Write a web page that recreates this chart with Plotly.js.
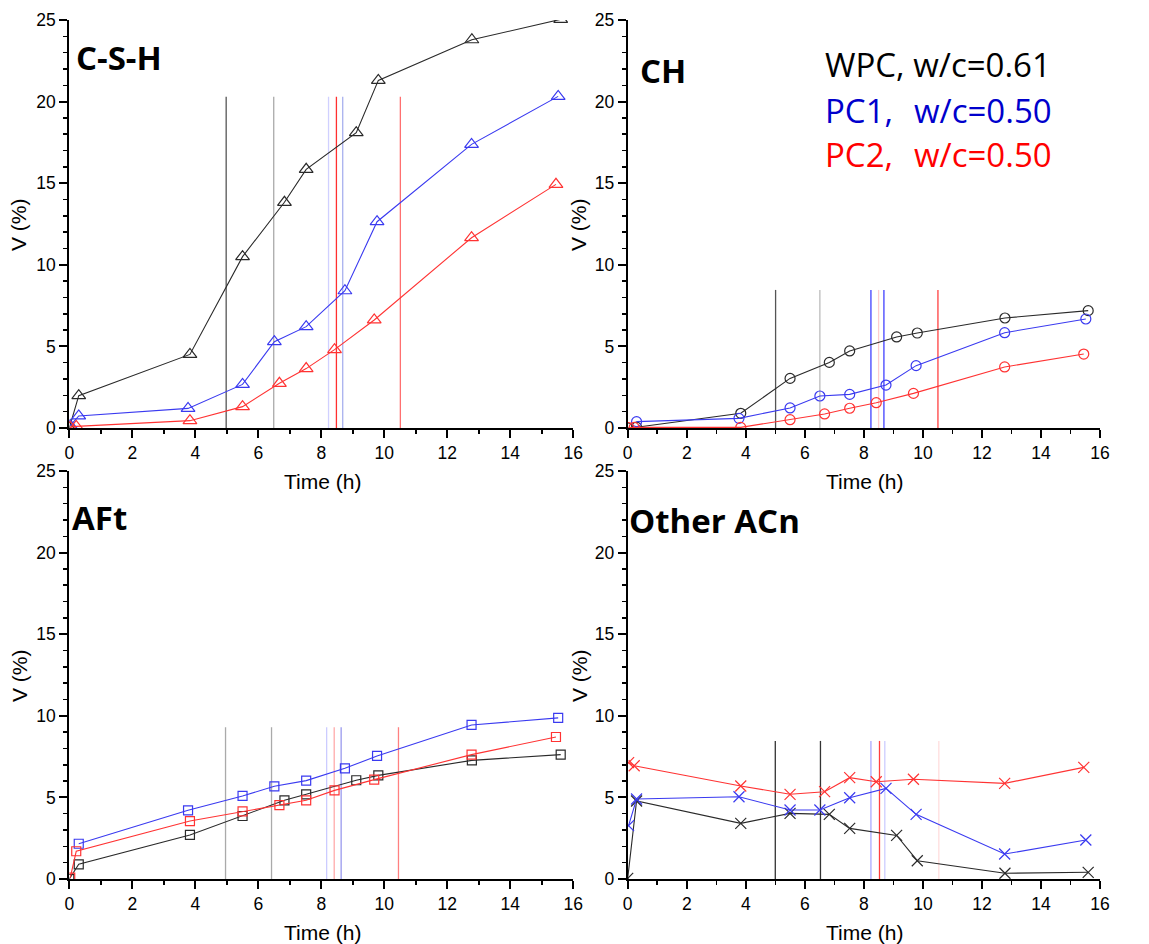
<!DOCTYPE html>
<html>
<head>
<meta charset="utf-8">
<script src="https://cdn.plot.ly/plotly-3.0.1.min.js"></script>
<style>html,body{margin:0;padding:0;background:#fff}#chart{width:1149px;height:944px}</style>
</head>
<body>
<div id="chart"></div>
<script>
// ---------------- DATA ----------------
const panelNames = ["C-S-H", "CH", "AFt", "Other ACn"];
const seriesNames = ["WPC, w/c=0.61", "PC1, w/c=0.50", "PC2, w/c=0.50"];

// sampling times (h)
const timeWPC = [0, 0.30, 3.83, 5.50, 6.83, 7.52, 9.11, 9.81, 12.78, 15.60];
const timePC1 = [0.03, 0.30, 3.77, 5.50, 6.51, 7.52, 8.75, 9.77, 12.77, 15.52];
const timePC2 = [0.03, 0.22, 3.83, 5.50, 6.67, 7.52, 8.42, 9.68, 12.77, 15.45];

// C-S-H volume (%)
const cshWPC = [0, 1.98, 4.51, 10.50, 13.83, 15.85, 18.10, 21.30, 23.79, 25.04];
const cshPC1 = [0.15, 0.74, 1.20, 2.67, 5.29, 6.21, 8.41, 12.64, 17.38, 20.32];
const cshPC2 = [0.05, 0.10, 0.45, 1.31, 2.74, 3.64, 4.80, 6.62, 11.66, 14.93];

// CH volume (%)
const chWPC = [0, 0.05, 0.90, 3.04, 4.02, 4.72, 5.58, 5.82, 6.74, 7.19];
const chPC1 = [null, 0.39, 0.59, 1.23, 1.96, 2.06, 2.63, 3.82, 5.84, 6.68];
const chPC2 = [0.03, 0.04, 0.04, 0.51, 0.86, 1.21, 1.55, 2.12, 3.74, 4.53];

// AFt volume (%)
const aftWPC = [0, 0.90, 2.70, 3.86, 4.82, 5.19, 6.05, 6.35, 7.27, 7.62];
const aftPC1 = [null, 2.16, 4.21, 5.09, 5.68, 6.03, 6.78, 7.54, 9.44, 9.87];
const aftPC2 = [0.08, 1.70, 3.55, 4.14, 4.53, 4.82, 5.43, 6.09, 7.62, 8.70];

// Other ACn volume (%)
const othWPC = [0.04, 4.78, 3.41, 4.02, 3.96, 3.10, 2.67, 1.12, 0.35, 0.41];
const othPC1 = [3.27, 4.90, 5.04, 4.23, 4.23, 4.98, 5.55, 3.96, 1.53, 2.39];
const othPC2 = [7.13, 6.94, 5.70, 5.19, 5.35, 6.21, 5.96, 6.11, 5.86, 6.84];

// vertical marker lines: times (h) and top value (%)
const markCSH = [4.98, 6.49, 8.23, 8.48, 8.68, 10.51];
const markCH  = [5.01, 6.51, 8.24, 8.50, 8.68, 10.51];
const markAFt = [4.96, 6.42, 8.17, 8.41, 8.63, 10.45];
const markOth = [5.00, 6.53, 8.24, 8.53, 8.71, 10.54];
const markTop = [20.3, 8.46, 9.3, 8.46];

// ---------------- STYLE ----------------
const W = 1149, H = 944;
const colSeries = ["#2a2a2a", "#3a3af0", "#ff3333"];
const markSymbols = ["triangle-up-open", "circle-open", "square-open", "x-thin-open"];
const markSizes = [12, 10, 9, 11];
const markColors = [
  ["#555555", "#aaaaaa", "#d0d0ff", "#ff3030", "#a8b0ee", "#ff7070"],
  ["#555555", "#bbbbbb", "#4040ff", "#ffcccc", "#4040ff", "#ff4040"],
  ["#aaaaaa", "#aaaaaa", "#ccccff", "#ffaaaa", "#9999ee", "#ff8080"],
  ["#333333", "#333333", "#aaaaff", "#ff4040", "#ccccff", "#ffdddd"]
];
const tickFont = {family: "Liberation Sans, Arial, sans-serif", size: 17.5, color: "#000"};

const panelData = [
  [cshWPC, cshPC1, cshPC2],
  [chWPC, chPC1, chPC2],
  [aftWPC, aftPC1, aftPC2],
  [othWPC, othPC1, othPC2]
];
const panelMarks = [markCSH, markCH, markAFt, markOth];
const times = [timeWPC, timePC1, timePC2];

const traces = [];
for (let p = 0; p < 4; p++) {
  const xa = p === 0 ? "x" : "x" + (p + 1);
  const ya = p === 0 ? "y" : "y" + (p + 1);
  panelMarks[p].forEach((t, i) => {
    traces.push({x: [t, t], y: [0, markTop[p]], xaxis: xa, yaxis: ya, mode: "lines",
      line: {color: markColors[p][i], width: 1.3}, hoverinfo: "skip", showlegend: false});
  });
  for (let s = 0; s < 3; s++) {
    traces.push({x: times[s], y: panelData[p][s], xaxis: xa, yaxis: ya, mode: "lines+markers",
      name: seriesNames[s], showlegend: false, connectgaps: false,
      line: {color: colSeries[s], width: 1.1},
      marker: {symbol: markSymbols[p], size: markSizes[p], color: colSeries[s],
               line: {color: colSeries[s], width: 1.2}}});
  }
}

function xax(d, anchor) {
  return {domain: d, anchor: anchor, range: [0, 16], tick0: 0, dtick: 2,
    ticks: "outside", ticklen: 8, tickwidth: 2, tickcolor: "#000",
    minor: {dtick: 1, ticks: "outside", ticklen: 4, tickwidth: 1.5, tickcolor: "#000"},
    showline: true, linewidth: 2, linecolor: "#000", showgrid: false, zeroline: false,
    tickfont: tickFont, fixedrange: true};
}
function yax(d, anchor) {
  return {domain: d, anchor: anchor, range: [0, 25], tick0: 0, dtick: 5,
    ticks: "outside", ticklen: 8, tickwidth: 2, tickcolor: "#000",
    minor: {dtick: 1, ticks: "outside", ticklen: 4, tickwidth: 1.5, tickcolor: "#000"},
    showline: true, linewidth: 2, linecolor: "#000", showgrid: false, zeroline: false,
    tickfont: tickFont, fixedrange: true};
}
const dxL = [69.3 / W, 573.3 / W], dxR = [627.7 / W, 1100 / W];
const dyT = [1 - 428 / H, 1 - 20 / H], dyB = [1 - 879 / H, 1 - 471 / H];

const ann = [];
function px(x) { return x / W; }
function py(y) { return 1 - y / H; }
function addText(text, x, y, opts) {
  ann.push(Object.assign({text: text, x: px(x), y: py(y), xref: "paper", yref: "paper",
    showarrow: false, xanchor: "center", yanchor: "middle"}, opts));
}
const axTitleFont = {family: "Liberation Sans, Arial, sans-serif", size: 21, color: "#000"};
// axis titles
[[322, 481], [864, 481], [322, 932], [864, 932]].forEach(([x, y]) =>
  addText("Time (h)", x, y, {font: axTitleFont}));
[[19, 225], [579, 225], [19, 676], [579, 676]].forEach(([x, y]) =>
  addText("V (%)", x, y, {font: axTitleFont, textangle: -90}));
// panel labels
const lblFont = {family: "Open Sans, sans-serif", size: 33, color: "#000", weight: 700};
addText("<b>" + panelNames[0] + "</b>", 74, 58, {font: lblFont, xanchor: "left"});
addText("<b>" + panelNames[1] + "</b>", 638, 70, {font: lblFont, xanchor: "left"});
addText("<b>" + panelNames[2] + "</b>", 70, 517, {font: lblFont, xanchor: "left"});
addText("<b>" + panelNames[3] + "</b>", 627, 520, {font: lblFont, xanchor: "left"});
// legend text
const legColors = ["#000000", "#0000cc", "#ff0000"];
const legFont = c => ({family: "Open Sans, sans-serif", size: 33, color: c});
addText("WPC, w/c=0.61", 823, 64, {font: legFont(legColors[0]), xanchor: "left"});
addText("PC1,", 823, 110, {font: legFont(legColors[1]), xanchor: "left"});
addText("w/c=0.50", 912, 110, {font: legFont(legColors[1]), xanchor: "left"});
addText("PC2,", 823, 155, {font: legFont(legColors[2]), xanchor: "left"});
addText("w/c=0.50", 912, 155, {font: legFont(legColors[2]), xanchor: "left"});

const layout = {
  width: W, height: H, margin: {l: 0, r: 0, t: 0, b: 0},
  paper_bgcolor: "#fff", plot_bgcolor: "#fff", showlegend: false,
  xaxis: xax(dxL, "y"), yaxis: yax(dyT, "x"),
  xaxis2: xax(dxR, "y2"), yaxis2: yax(dyT, "x2"),
  xaxis3: xax(dxL, "y3"), yaxis3: yax(dyB, "x3"),
  xaxis4: xax(dxR, "y4"), yaxis4: yax(dyB, "x4"),
  annotations: ann
};
Plotly.newPlot("chart", traces, layout, {displayModeBar: false, staticPlot: true});
</script>
</body>
</html>
